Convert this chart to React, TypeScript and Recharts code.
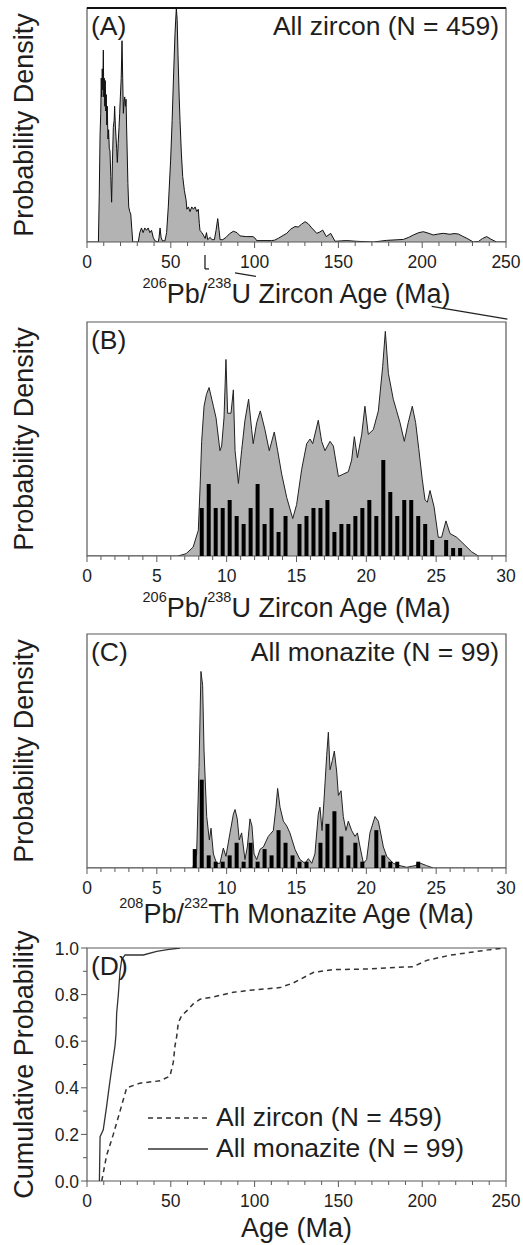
import React from 'react';
import {
  ComposedChart,
  LineChart,
  Area,
  Bar,
  Line,
  XAxis,
  YAxis,
  ReferenceArea,
  ReferenceLine,
  Legend,
  Label,
} from 'recharts';

// ---------------- DATA ----------------
// Panel A: zircon probability density, [age (Ma), relative density]
const zirconDensityA: [number, number][] = [
  [0, 0], [6.8, 0], [7.3, 20], [7.8, 46], [8.2, 55], [8.5, 70], [8.8, 62], [9.1, 74], [9.4, 65], [9.75, 82],
  [10.0, 62], [10.3, 70], [10.6, 58], [10.9, 69], [11.2, 56], [11.5, 63], [11.8, 50], [12.1, 58], [12.5, 44],
  [12.9, 48], [13.3, 40], [13.7, 39], [14.2, 28], [14.7, 17], [15.2, 35], [15.7, 49], [16.2, 52], [16.5, 58],
  [16.9, 50], [17.3, 45], [17.7, 40], [18.1, 34], [18.6, 42], [19.1, 49], [19.5, 55], [19.9, 62], [20.4, 70],
  [20.9, 86], [21.3, 70], [21.7, 55], [22.1, 60], [22.5, 62], [22.9, 58], [23.3, 61], [23.6, 50], [23.9, 41],
  [24.4, 25], [24.9, 15], [25.5, 13], [26.1, 12], [26.7, 6], [27.3, 0], [30.6, 0], [31.5, 4], [32.5, 6],
  [33.5, 4], [34.5, 6], [35.5, 5], [36.5, 6], [37.5, 4], [38.5, 5], [39.5, 2], [40.5, 0.5], [42.5, 0],
  [43.0, 2], [43.6, 6], [44.2, 2], [45.0, 0.5], [46.5, 0.5], [47.5, 4], [48.5, 15], [49.9, 35], [50.8, 52],
  [51.5, 68], [52.5, 89], [53.3, 100], [53.8, 95], [54.3, 80], [55.0, 62], [55.5, 52], [56.3, 38], [57.1, 28],
  [58.1, 22], [59.1, 18], [59.6, 14], [60.5, 15], [61.5, 13], [62.5, 15], [63.5, 14], [64.5, 15], [65.5, 13],
  [66.4, 14], [67.0, 8], [67.4, 5], [68.5, 4], [69.4, 3], [70.5, 1.5], [71.3, 4], [72.0, 1], [73.5, 2],
  [74.5, 1], [76.0, 1], [77.0, 5], [78.0, 10], [78.8, 5], [79.4, 1], [81.0, 1], [83.0, 2], [85.0, 3.5],
  [87.3, 4.6], [89.5, 4], [91.3, 2.6], [95, 2.3], [99, 2.3], [100.5, 1.5], [101.2, 0.6], [110, 0.6],
  [112, 0.8], [114.2, 1.6], [117, 2.8], [119.2, 3.7], [121.5, 5.5], [124.1, 6.6], [126, 6.4], [128, 7.6],
  [130.1, 8.7], [132, 7.8], [134.1, 6.0], [137.1, 3.7], [139, 4.3], [140.6, 5.1], [142.8, 2.3], [145.4, 3.7],
  [148, 0.3], [152, 0.5], [155, 0.6], [161, 0.3], [170.9, 0], [178.8, 0.7], [188.8, 1.1], [192, 2],
  [194.7, 3], [198, 4], [200.7, 4.4], [203.5, 3.8], [206.6, 3], [209.5, 3.4], [212.6, 3.7], [216.6, 3.3],
  [219, 3.6], [221.6, 3.4], [224, 2.5], [226.6, 1.6], [230.5, 0], [233.5, 0.2], [236, 1.5], [238.5, 2.3],
  [241, 1.2], [244.4, 0], [250, 0],
];

// Panel B: zircon 0-30 Ma density, [age, relative density]
const zirconDensityB: [number, number][] = [
  [0, 0], [6.5, 0], [7.1, 1], [7.6, 3.8], [7.97, 11], [8.1, 30], [8.21, 49], [8.38, 64], [8.55, 69],
  [8.74, 72], [9.05, 64], [9.24, 59], [9.52, 45], [9.64, 47], [9.81, 59], [9.95, 84], [10.07, 61],
  [10.31, 61], [10.48, 71], [10.6, 45], [10.84, 31], [11.07, 45], [11.31, 58], [11.57, 67], [11.79, 54],
  [11.9, 48], [12.15, 57], [12.41, 62], [12.74, 54], [13.05, 45], [13.41, 53], [13.65, 45], [13.94, 35],
  [14.3, 25], [14.73, 16], [15.01, 22], [15.37, 37], [15.73, 48], [15.97, 50], [16.16, 48], [16.56, 58],
  [16.8, 49], [17.04, 45], [17.4, 49], [17.64, 47], [18.0, 34], [18.35, 35], [18.71, 36], [18.95, 41],
  [19.14, 51], [19.36, 42], [19.67, 52], [19.9, 64], [20.14, 52], [20.5, 54], [20.86, 62], [21.17, 81],
  [21.36, 96], [21.58, 78], [21.93, 67], [22.17, 62], [22.41, 57], [22.72, 49], [23.0, 57], [23.29, 64],
  [23.53, 57], [23.75, 46], [24.0, 33], [24.2, 24], [24.37, 23], [24.56, 28], [24.85, 21], [25.15, 8],
  [25.39, 8], [25.7, 15], [25.99, 9.6], [26.47, 8], [27.06, 4.6], [27.54, 1.8], [28.02, 0], [30, 0],
];

// Panel B histogram: bin centre (Ma), number of zircon ages (0.5 Ma bins)
const zirconBinsB: [number, number][] = [
  [8.25, 6], [8.75, 9], [9.25, 6], [9.75, 6], [10.25, 7], [10.75, 5], [11.25, 4], [11.75, 6], [12.25, 9],
  [12.75, 4], [13.25, 6], [13.75, 3], [14.25, 5], [15.25, 4], [15.75, 5], [16.25, 6], [16.75, 6],
  [17.25, 7], [17.75, 3], [18.25, 4], [18.75, 4], [19.25, 5], [19.75, 6], [20.25, 7], [20.75, 5],
  [21.25, 12], [21.75, 8], [22.25, 5], [22.75, 7], [23.25, 7], [23.75, 5], [24.25, 4], [24.75, 2],
  [25.75, 2], [26.25, 1], [26.75, 1],
];

// Panel C: monazite density, [age, relative density]
const monaziteDensityC: [number, number][] = [
  [0, 0], [7.57, 0], [7.85, 6], [8.02, 43], [8.16, 84], [8.28, 78], [8.38, 50], [8.57, 22], [8.76, 12],
  [8.88, 17], [9.05, 6], [9.28, 2], [9.52, 2], [9.76, 8.5], [9.95, 5], [10.24, 15], [10.48, 23], [10.6, 25],
  [10.76, 21], [10.9, 12], [11.07, 15], [11.31, 3.6], [11.48, 9], [11.67, 21], [11.81, 18], [11.96, 6],
  [12.15, 3.6], [12.39, 8], [12.63, 9], [12.98, 13.5], [13.34, 16], [13.53, 26], [13.65, 34], [13.82, 26],
  [14.06, 20], [14.3, 18], [14.53, 15], [14.89, 8], [15.25, 3.6], [15.61, 2], [15.85, 4], [16.09, 2],
  [16.32, 6], [16.56, 23], [16.68, 26], [16.83, 16], [16.97, 29], [17.16, 48], [17.28, 58], [17.4, 42],
  [17.57, 46], [17.71, 50], [17.88, 41], [18.0, 31], [18.19, 33], [18.35, 22], [18.54, 16], [18.71, 20],
  [18.95, 16], [19.19, 13.5], [19.36, 15], [19.55, 9], [19.79, 2], [20.02, 3.6], [20.26, 15], [20.62, 22],
  [20.86, 20], [21.22, 9], [21.46, 5], [21.93, 2], [22.41, 1], [22.89, 0.3], [23.48, 1], [23.89, 2],
  [24.32, 1], [24.8, 0], [30, 0],
];

// Panel C histogram: bin centre (Ma), number of monazite ages (0.5 Ma bins)
const monaziteBinsC: [number, number][] = [
  [7.75, 3], [8.25, 14], [8.75, 2], [9.25, 1], [9.75, 1], [10.25, 2], [10.75, 4], [11.25, 1], [11.75, 4],
  [12.25, 1], [12.75, 3], [13.25, 2], [13.75, 6], [14.25, 4], [14.75, 2], [15.25, 1], [15.75, 1],
  [16.75, 4], [17.25, 7], [17.75, 9], [18.25, 5], [18.75, 2], [19.25, 4], [19.75, 1], [20.75, 6],
  [21.25, 2], [21.75, 1], [22.25, 1], [23.75, 1],
];

// Panel D: cumulative probability, [age, probability]
const zirconCumulative: [number, number][] = [
  [8.8, 0], [11.7, 0.11], [15.7, 0.2], [23.7, 0.4], [31.6, 0.42], [43.6, 0.43], [49.5, 0.45], [51.5, 0.51],
  [52.5, 0.58], [53.5, 0.62], [54.5, 0.68], [56.5, 0.71], [59.5, 0.73], [63.4, 0.76], [67.4, 0.78],
  [75.4, 0.79], [87.3, 0.81], [99.2, 0.82], [115.2, 0.83], [123.1, 0.85], [135, 0.895], [147, 0.907],
  [166.9, 0.91], [194.7, 0.92], [202.7, 0.947], [216.6, 0.969], [230.5, 0.983], [240.5, 0.993], [249.4, 1.0],
];
const monaziteCumulative: [number, number][] = [
  [7.4, 0], [7.8, 0.19], [9.7, 0.22], [11.7, 0.32], [13.7, 0.43], [15.7, 0.53], [16.7, 0.58], [17.3, 0.63],
  [17.7, 0.72], [18.7, 0.8], [19.7, 0.9], [20.7, 0.95], [22.7, 0.97], [33.6, 0.97], [41.6, 0.986],
  [48, 0.993], [55.5, 1.0],
];

// Tick values
const ticks250 = [0, 10, 20, 30, 40, 50, 60, 70, 80, 90, 100, 110, 120, 130, 140, 150, 160, 170, 180, 190, 200, 210, 220, 230, 240, 250];
const ticks30 = [0, 1, 2, 3, 4, 5, 6, 7, 8, 9, 10, 11, 12, 13, 14, 15, 16, 17, 18, 19, 20, 21, 22, 23, 24, 25, 26, 27, 28, 29, 30];
const ticksProb = [0, 0.1, 0.2, 0.3, 0.4, 0.5, 0.6, 0.7, 0.8, 0.9, 1.0];

// Series names (legend order)
const zirconName = 'All zircon (N = 459)';
const monaziteName = 'All monazite (N = 99)';
const legendOrder = [zirconName, monaziteName];

// Zoom-connector remnants (data coordinates of the panels they sit in)
const connectorsA: { x: number; y: number }[][] = [
  [{ x: 70.4, y: -5.6 }, { x: 70.4, y: -11.5 }],
  [{ x: 70.4, y: -11.5 }, { x: 72.8, y: -11.5 }],
  [{ x: 88.3, y: -13.2 }, { x: 100.8, y: -14.7 }],
];
const connectorsB: { x: number; y: number }[][] = [
  [{ x: 24.68, y: 31.2 }, { x: 30.1, y: 29.6 }],
];

// ---------------- STYLE ----------------
const FONT = '"Liberation Sans", Arial, Helvetica, sans-serif';
const TEXT = '#1e1e1e';
const FILL = '#b3b3b3';
const FRAME = '#5a5a5a';
const W = 523;
const PLOT_LEFT = 87;
const PLOT_RIGHT = 506;
const CX = (PLOT_LEFT + PLOT_RIGHT) / 2;

const toPts = (arr: [number, number][], key: string) => arr.map(([age, v]) => ({ age, [key]: v }));

function makeXTick(majorStep: number) {
  return (props: any) => {
    const { x, y, payload } = props;
    const v = payload.value;
    const r = v / majorStep;
    const major = Math.abs(r - Math.round(r)) < 1e-6;
    return (
      <g>
        <line x1={x} x2={x} y1={y} y2={y + (major ? 6 : 4)} stroke={FRAME} strokeWidth={1} />
        {major && (
          <text x={x} y={y + 26} textAnchor="middle" fontFamily={FONT} fontSize={17.5} fill={TEXT}>
            {v}
          </text>
        )}
      </g>
    );
  };
}

function makeYTick() {
  return (props: any) => {
    const { x, y, payload } = props;
    const v = payload.value;
    const r = v / 0.2;
    const major = Math.abs(r - Math.round(r)) < 1e-6;
    return (
      <g>
        <line x1={x - (major ? 6 : 4)} x2={x} y1={y} y2={y} stroke={FRAME} strokeWidth={1} />
        {major && (
          <text x={x - 8} y={y + 6.5} textAnchor="end" fontFamily={FONT} fontSize={17.5} fill={TEXT}>
            {v.toFixed(1)}
          </text>
        )}
      </g>
    );
  };
}

type TextOpts = {
  plotTop: number;
  plotBottom: number;
  letter: string;
  note?: string;
  ylabel: string;
  title: React.ReactNode;
  titleGap: number;
};

function makePanelTexts(o: TextOpts) {
  return () => {
    const cy = (o.plotTop + o.plotBottom) / 2;
    return (
      <g fontFamily={FONT} fill={TEXT}>
        <text x={33} y={cy} transform={`rotate(-90 33 ${cy})`} textAnchor="middle" fontSize={27}>
          {o.ylabel}
        </text>
        <text x={91} y={o.plotTop + 27} fontSize={26.5}>
          {o.letter}
        </text>
        {o.note && (
          <text x={499} y={o.plotTop + 27} textAnchor="end" fontSize={26.5}>
            {o.note}
          </text>
        )}
        <text x={CX} y={o.plotBottom + o.titleGap} textAnchor="middle" fontSize={27}>
          {o.title}
        </text>
      </g>
    );
  };
}

const isoTitle = (a: string, b: string, el: string, rest: string) => [
  <tspan key="1" fontSize={14.5} dy={-15}>{a}</tspan>,
  <tspan key="2" dy={15}>Pb/</tspan>,
  <tspan key="3" fontSize={14.5} dy={-15}>{b}</tspan>,
  <tspan key="4" dy={15}>{el + rest}</tspan>,
];

// ---------------- PANELS ----------------
function PanelA() {
  const H = 312;
  const top = 8;
  const xH = 70;
  const bottom = H - xH;
  return (
    <ComposedChart width={W} height={H} margin={{ top, right: W - PLOT_RIGHT, bottom: 0, left: PLOT_LEFT }} data={toPts(zirconDensityA, 'd')}>
      <XAxis
        dataKey="age"
        type="number"
        domain={[0, 250]}
        ticks={ticks250}
        interval={0}
        allowDataOverflow
        height={xH}
        tickSize={0}
        tickMargin={0}
        tickLine={false}
        axisLine={false}
        tick={makeXTick(50)}
      >
        <Label
          content={makePanelTexts({
            plotTop: top,
            plotBottom: bottom,
            letter: '(A)',
            note: zirconName,
            ylabel: 'Probability Density',
            title: isoTitle('206', '238', 'U', ' Zircon Age (Ma)'),
            titleGap: 61,
          })}
        />
      </XAxis>
      <YAxis yAxisId="d" hide domain={[0, 100]} allowDataOverflow />
      <Area
        yAxisId="d"
        type="linear"
        dataKey="d"
        stroke="#111"
        strokeWidth={1}
        fill={FILL}
        fillOpacity={1}
        dot={false}
        activeDot={false}
        isAnimationActive={false}
      />
      <ReferenceArea yAxisId="d" x1={0} x2={250} y1={0} y2={100} fill="none" fillOpacity={0} stroke={FRAME} strokeWidth={1.2} />
      <ReferenceLine yAxisId="d" y={100} stroke="#111" strokeWidth={2} />
      {connectorsA.map((seg, i) => (
        <ReferenceLine key={i} yAxisId="d" segment={seg} stroke="#222" strokeWidth={1.3} ifOverflow="visible" />
      ))}
    </ComposedChart>
  );
}

function PanelHist(props: {
  H: number;
  top: number;
  xH: number;
  density: [number, number][];
  bins: [number, number][];
  countMax: number;
  letter: string;
  note?: string;
  title: React.ReactNode;
  titleGap: number;
  connectors?: { x: number; y: number }[][];
}) {
  const { H, top, xH } = props;
  const bottom = H - xH;
  return (
    <ComposedChart
      width={W}
      height={H}
      margin={{ top, right: W - PLOT_RIGHT, bottom: 0, left: PLOT_LEFT }}
      data={toPts(props.bins, 'c')}
    >
      <XAxis
        dataKey="age"
        type="number"
        domain={[0, 30]}
        ticks={ticks30}
        interval={0}
        allowDataOverflow
        height={xH}
        tickSize={0}
        tickMargin={0}
        tickLine={false}
        axisLine={false}
        tick={makeXTick(5)}
      >
        <Label
          content={makePanelTexts({
            plotTop: top,
            plotBottom: bottom,
            letter: props.letter,
            note: props.note,
            ylabel: 'Probability Density',
            title: props.title,
            titleGap: props.titleGap,
          })}
        />
      </XAxis>
      <XAxis xAxisId="bars" dataKey="age" type="number" domain={[0, 30]} allowDataOverflow hide />
      <YAxis yAxisId="d" hide domain={[0, 100]} allowDataOverflow />
      <YAxis yAxisId="c" hide domain={[0, props.countMax]} allowDataOverflow />
      <Area
        yAxisId="d"
        data={toPts(props.density, 'd')}
        type="linear"
        dataKey="d"
        stroke="#222"
        strokeWidth={1}
        fill={FILL}
        fillOpacity={1}
        dot={false}
        activeDot={false}
        isAnimationActive={false}
      />
      <Bar xAxisId="bars" yAxisId="c" dataKey="c" fill="#000" barSize={4} isAnimationActive={false} />
      <ReferenceArea yAxisId="d" x1={0} x2={30} y1={0} y2={100} fill="none" fillOpacity={0} stroke={FRAME} strokeWidth={1.2} />
      {(props.connectors || []).map((seg, i) => (
        <ReferenceLine key={i} yAxisId="c" segment={seg} stroke="#222" strokeWidth={1.3} ifOverflow="visible" />
      ))}
    </ComposedChart>
  );
}

const lineStyles: Record<string, { dash?: string }> = {
  [zirconName]: { dash: '5 4' },
  [monaziteName]: {},
};

function renderLegend(props: any) {
  const items: any[] = [...(props.payload || [])].sort(
    (a, b) => legendOrder.indexOf(a.value) - legendOrder.indexOf(b.value),
  );
  return (
    <svg width={370} height={68} style={{ display: 'block' }}>
      {items.map((it, i) => {
        const cy = 16 + i * 31;
        const style = lineStyles[it.value] || {};
        return (
          <g key={i}>
            <line x1={0} x2={60} y1={cy} y2={cy} stroke="#333" strokeWidth={1.3} strokeDasharray={style.dash} />
            <text x={68} y={cy + 8} fontFamily={FONT} fontSize={26.5} fill={TEXT}>
              {it.value}
            </text>
          </g>
        );
      })}
    </svg>
  );
}

function PanelD() {
  const H = 314;
  const top = 17;
  const xH = 64;
  const yW = 60;
  const bottom = H - xH;
  return (
    <LineChart width={W} height={H} margin={{ top, right: W - PLOT_RIGHT, bottom: 0, left: PLOT_LEFT - yW }}>
      <XAxis
        dataKey="age"
        type="number"
        domain={[0, 250]}
        ticks={ticks250}
        interval={0}
        allowDataOverflow
        height={xH}
        tickSize={0}
        tickMargin={0}
        tickLine={false}
        axisLine={false}
        tick={makeXTick(50)}
      >
        <Label
          content={makePanelTexts({
            plotTop: top,
            plotBottom: bottom,
            letter: '(D)',
            ylabel: 'Cumulative Probability',
            title: 'Age (Ma)',
            titleGap: 56,
          })}
        />
      </XAxis>
      <YAxis
        width={yW}
        type="number"
        domain={[0, 1]}
        ticks={ticksProb}
        interval={0}
        allowDataOverflow
        tickSize={0}
        tickMargin={0}
        tickLine={false}
        axisLine={false}
        tick={makeYTick()}
      />
      <Line
        data={zirconCumulative.map(([age, p]) => ({ age, p }))}
        name={zirconName}
        dataKey="p"
        type="linear"
        stroke="#333"
        strokeWidth={1.5}
        strokeDasharray="5 4"
        dot={false}
        activeDot={false}
        isAnimationActive={false}
      />
      <Line
        data={monaziteCumulative.map(([age, p]) => ({ age, p }))}
        name={monaziteName}
        dataKey="p"
        type="linear"
        stroke="#333"
        strokeWidth={1.3}
        dot={false}
        activeDot={false}
        isAnimationActive={false}
      />
      <ReferenceArea x1={0} x2={250} y1={0} y2={1} fill="none" fillOpacity={0} stroke={FRAME} strokeWidth={1.2} />
      <Legend
        layout="vertical"
        align="center"
        verticalAlign="middle"
        content={renderLegend}
        wrapperStyle={{ position: 'absolute', left: 148, top: 1118 - 16 - 931, width: 370, height: 68 }}
      />
    </LineChart>
  );
}

export default function App() {
  return (
    <div style={{ position: 'absolute', left: 0, top: 0, width: W, height: 1245, background: '#fff' }}>
      <div style={{ position: 'absolute', left: 0, top: 0 }}>
        <PanelA />
      </div>
      <div style={{ position: 'absolute', left: 0, top: 300 }}>
        <PanelHist
          H={326}
          top={22}
          xH={70}
          density={zirconDensityB}
          bins={zirconBinsB}
          countMax={29.25}
          letter="(B)"
          title={isoTitle('206', '238', 'U', ' Zircon Age (Ma)')}
          titleGap={61}
          connectors={connectorsB}
        />
      </div>
      <div style={{ position: 'absolute', left: 0, top: 626 }}>
        <PanelHist
          H={305}
          top={8}
          xH={63}
          density={monaziteDensityC}
          bins={monaziteBinsC}
          countMax={37.1}
          letter="(C)"
          note={monaziteName}
          title={isoTitle('208', '232', 'Th', ' Monazite Age (Ma)')}
          titleGap={55}
        />
      </div>
      <div style={{ position: 'absolute', left: 0, top: 931 }}>
        <PanelD />
      </div>
    </div>
  );
}
